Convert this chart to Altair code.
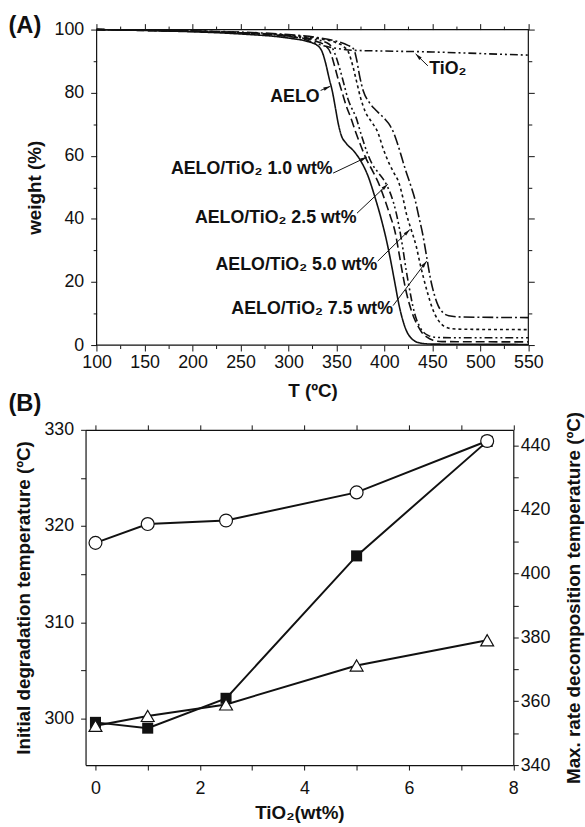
import math
import altair as alt
import pandas as pd

FONT = "Liberation Sans"
INK = "#111111"

# ---------------- Panel (A): TGA curves ----------------
AELO_T = [100, 150, 200, 250, 300, 320, 330, 335, 339, 342, 346, 349, 352, 355, 360, 368, 376, 383, 390, 397.5,
          403, 407, 411, 415, 419.5, 423, 427, 432, 438, 450, 550]
AELO_W = [100, 99.7, 99.3, 98.6, 97.3, 96.2, 95, 93, 89, 85, 80, 75, 70, 66.5, 64, 61.5, 58, 53.5, 47, 39,
          32, 26, 19.5, 13, 7.5, 4.5, 2.5, 1.2, 0.6, 0.3, 0.2]

T10_T = [100, 150, 200, 250, 300, 325, 338, 344, 348, 352, 356, 360, 365, 370, 375, 381, 388, 395, 401,
         406, 411, 415, 419, 423, 427, 431, 435, 439, 444, 450, 460, 550]
T10_W = [100, 99.7, 99.4, 98.9, 97.8, 96.6, 95, 92.5, 88.5, 84, 80, 76, 72, 67.5, 63.5, 59, 55, 50.5, 45.5,
         41, 36, 29.5, 22.5, 16.5, 12, 8.5, 6, 4, 2.6, 1.6, 1.1, 1.0]

T25_T = [100, 200, 250, 300, 325, 340, 346, 350, 354, 358, 362, 366, 370, 376, 382, 387, 394, 400, 405,
         409.6, 415, 419, 422.5, 426, 429.5, 433, 437, 441, 446, 452, 470, 550]
T25_W = [100, 99.5, 99, 98, 97, 95.8, 94, 91, 87, 82.5, 78, 75, 72.5, 66.5, 61, 57.5, 54.5, 52, 49,
         45, 38, 31, 24, 18, 12.5, 8.5, 5.7, 4, 3, 2.5, 2.3, 2.3]

T50_T = [100, 200, 250, 300, 330, 350, 358, 363, 367, 371, 375, 380, 386, 393, 399, 405, 410, 415, 419,
         423, 428, 433, 437, 441, 445, 449, 453, 457, 462, 470, 485, 550]
T50_W = [100, 99.5, 99, 98.2, 97.2, 95.8, 94.5, 92.5, 88.5, 83.5, 78.5, 74, 71, 67.5, 62, 57.5, 54.5, 51.5, 47,
         41.5, 36.5, 31.5, 26, 21, 16.5, 12.5, 9.5, 7.5, 6, 5.2, 5.0, 4.9]

T75_T = [100, 200, 250, 300, 330, 350, 362, 368, 371, 374, 378, 384, 392, 400, 406, 410, 414, 418, 422,
         427, 432, 436, 440, 444, 448, 452, 456, 461, 467, 480, 550]
T75_W = [100, 99.6, 99.2, 98.4, 97.5, 96.3, 95, 93.8, 90.5, 85.5, 80.5, 77, 74.2, 71.8, 69.5, 67, 63.5, 59.5, 55.5,
         51, 46, 40.5, 35, 28, 21, 16, 12.5, 10.3, 9.3, 8.9, 8.7]

TIO2_T = [100, 150, 200, 250, 290, 310, 325, 335, 345, 358, 370, 400, 450, 500, 550]
TIO2_W = [100, 99.8, 99.5, 99, 98.3, 97.6, 96, 95, 94.3, 93.7, 93.4, 93.2, 92.9, 92.4, 91.9]

SERIES = ["AELO", "AELO/TiO₂ 1.0 wt%", "AELO/TiO₂ 2.5 wt%", "AELO/TiO₂ 5.0 wt%", "AELO/TiO₂ 7.5 wt%", "TiO₂"]
CURVE_T = [AELO_T, T10_T, T25_T, T50_T, T75_T, TIO2_T]
CURVE_W = [AELO_W, T10_W, T25_W, T50_W, T75_W, TIO2_W]
DASHES = [[1, 0], [9, 4], [8, 3, 2, 3, 2, 3], [3, 3], [11, 3, 2, 3], [8, 3, 2, 3, 2, 3]]

# annotation labels (right-aligned at arrow tail) and arrows
LABELS = ["AELO", "AELO/TiO₂ 1.0 wt%", "AELO/TiO₂ 2.5 wt%", "AELO/TiO₂ 5.0 wt%", "AELO/TiO₂ 7.5 wt%"]
LABEL_T = [332.5, 346, 371, 392.5, 409]
LABEL_W = [78.5, 55.9, 40.3, 25.3, 11.5]
TIO2_LABEL = ["TiO₂"]
TIO2_LABEL_T = [446.7]
TIO2_LABEL_W = [87.5]

ARROW_T0 = [333.5, 346.5, 371.4, 393, 409, 445.3]
ARROW_W0 = [80.7, 54.5, 41.8, 26.6, 12.5, 88.5]
ARROW_T1 = [343.5, 381.8, 403.5, 426.5, 444, 432.5]
ARROW_W1 = [82, 59.6, 51, 36.6, 26.6, 92.3]

T_AXIS = [100, 550]
W_AXIS = [0, 100]
T_TICKS = list(range(100, 551, 25))
W_TICKS = list(range(0, 101, 10))

# ---------------- Panel (B) ----------------
B_X = [0, 1, 2.5, 5, 7.5]
B_INIT = [299.6, 299.0, 302.1, 316.9, 328.8]      # filled squares, left axis
B_MAX1 = [409.6, 415.5, 416.6, 425.4, 441.5]      # open circles, right axis
B_MAX2 = [352.3, 355.4, 359.0, 371.2, 379.1]      # open triangles, right axis
B_X_DOMAIN = [-0.19, 8]
B_L_DOMAIN = [295.16, 330]
B_R_DOMAIN = [340, 445]
B_X_TICKS = list(range(0, 9))
B_L_TICKS = list(range(300, 331, 5))
B_R_TICKS = list(range(340, 441, 10))

# ---------------- layout constants ----------------
A_PLOT_W = 436.5
A_SHIFT = 11.2
A_W = A_PLOT_W + A_SHIFT
A_H = 319.0
T_LO = T_AXIS[0] - A_SHIFT * (T_AXIS[1] - T_AXIS[0]) / A_PLOT_W
KX = A_W / (T_AXIS[1] - T_LO)
KY = A_H / (W_AXIS[1] - W_AXIS[0])
B_W, B_H = 432.5, 339.0


def cond(test, a, b):
    return {"condition": {"test": test, "value": a}, "value": b}


rows = []
for s, (ts, ws) in enumerate(zip(CURVE_T, CURVE_W)):
    for i, (t, w) in enumerate(zip(ts, ws)):
        rows.append({"series": SERIES[s], "T": t, "w": w, "i": i})
curves = pd.DataFrame(rows)

HEAD_SIZE = 48
r = math.sqrt(HEAD_SIZE) / 2
arrow_rows = []
for t0, w0, t1, w1 in zip(ARROW_T0, ARROW_W0, ARROW_T1, ARROW_W1):
    dx = (t1 - t0) * KX
    dy = -(w1 - w0) * KY
    L = math.hypot(dx, dy)
    ang = math.degrees(math.atan2(dx, -dy)) % 360
    cx = t1 - (dx / L) * r / KX
    cy = w1 + (dy / L) * r / KY
    arrow_rows.append({"t0": t0, "w0": w0, "t1": t1, "w1": w1, "ang": ang, "cx": cx, "cy": cy})
arrows = pd.DataFrame(arrow_rows)

xsA = alt.Scale(domain=[T_LO, T_AXIS[1]], nice=False, zero=False)
ysA = alt.Scale(domain=W_AXIS, nice=False, zero=False)

axA_bottom = alt.Axis(orient="bottom", values=T_TICKS,
                      labelExpr="datum.value % 50 == 0 ? datum.label : ''",
                      tickSize=cond("datum.value % 50 == 0", 6, 3.5), domain=False,
                      title="T (ºC)", labelPadding=3, titlePadding=10, labelFlush=False,
                      labelOverlap=False, titleX=229.5)
axA_left = alt.Axis(orient="left", offset=-A_SHIFT, values=W_TICKS,
                    labelExpr="datum.value % 20 == 0 ? datum.label : ''",
                    tickSize=cond("datum.value % 20 == 0", 6, 3.5), domain=False,
                    title="weight (%)", labelPadding=7, titlePadding=10, labelOverlap=False)
axA_top = alt.Axis(orient="top", values=T_TICKS, labels=False,
                   tickSize=cond("datum.value % 50 == 0", 6, 3.5), domain=False, title=None)
axA_right = alt.Axis(orient="right", values=W_TICKS, labels=False,
                     tickSize=cond("datum.value % 20 == 0", 6, 3.5), domain=False, title=None)

frame_df = pd.DataFrame({"x": [T_AXIS[0]], "x2": [T_AXIS[1]], "y": [W_AXIS[0]], "y2": [W_AXIS[1]]})
frame = alt.Chart(frame_df).mark_rect(fillOpacity=0, stroke=INK, strokeWidth=1.2).encode(
    x=alt.X("x:Q", scale=xsA, axis=axA_bottom), x2="x2:Q",
    y=alt.Y("y:Q", scale=ysA, axis=axA_left), y2="y2:Q")

lines = alt.Chart(curves).mark_line(color=INK, strokeWidth=1.6, interpolate="monotone").encode(
    x=alt.X("T:Q", scale=xsA, axis=axA_top),
    y=alt.Y("w:Q", scale=ysA, axis=axA_right),
    strokeDash=alt.StrokeDash("series:N", scale=alt.Scale(domain=SERIES, range=DASHES), legend=None),
    order="i:Q")

shafts = alt.Chart(arrows).mark_rule(color=INK, strokeWidth=1).encode(
    x=alt.X("t0:Q", scale=xsA, axis=None), y=alt.Y("w0:Q", scale=ysA, axis=None), x2="t1:Q", y2="w1:Q")
heads = alt.Chart(arrows).mark_point(shape="M0,-1L0.5,1L-0.5,1Z", filled=True, color=INK,
                                     size=HEAD_SIZE, opacity=1).encode(
    x=alt.X("cx:Q", scale=xsA, axis=None), y=alt.Y("cy:Q", scale=ysA, axis=None), angle=alt.Angle("ang:Q", scale=None))

lab_df = pd.DataFrame({"text": LABELS, "T": LABEL_T, "w": LABEL_W})
labels = alt.Chart(lab_df).mark_text(align="right", baseline="middle", font=FONT, fontSize=18,
                                     fontWeight="bold", color=INK).encode(
    x=alt.X("T:Q", scale=xsA, axis=None), y=alt.Y("w:Q", scale=ysA, axis=None), text="text:N")
tio_df = pd.DataFrame({"text": TIO2_LABEL, "T": TIO2_LABEL_T, "w": TIO2_LABEL_W})
tio_label = alt.Chart(tio_df).mark_text(align="left", baseline="middle", font=FONT, fontSize=18,
                                        fontWeight="bold", color=INK).encode(
    x=alt.X("T:Q", scale=xsA, axis=None), y=alt.Y("w:Q", scale=ysA, axis=None), text="text:N")

tagA = alt.Chart(pd.DataFrame({"t": ["(A)"]})).mark_text(align="left", baseline="top", font=FONT, fontSize=24,
                                                         fontWeight="bold", color=INK).encode(
    x=alt.value(-78), y=alt.value(-16), text="t:N")

panelA = alt.layer(frame, lines, shafts, heads, labels, tio_label, tagA).resolve_axis(
    x="independent", y="independent").properties(width=A_W, height=A_H)

# ---------------- Panel (B) chart ----------------
xsB = alt.Scale(domain=B_X_DOMAIN, nice=False, zero=False)
ysL = alt.Scale(domain=B_L_DOMAIN, nice=False, zero=False)
ysR = alt.Scale(domain=B_R_DOMAIN, nice=False, zero=False)

axB_bottom = alt.Axis(orient="bottom", values=B_X_TICKS,
                      labelExpr="datum.value % 2 == 0 ? datum.label : ''", tickSize=5,
                      title="TiO₂(wt%)", labelPadding=10, titlePadding=6, labelFlush=False, labelOverlap=False)
axB_top = alt.Axis(orient="top", values=B_X_TICKS, labels=False, tickSize=5, title=None)
axB_left = alt.Axis(orient="left", values=B_L_TICKS,
                    labelExpr="datum.value % 10 == 0 ? datum.label : ''", tickSize=5,
                    labelPadding=7, title="Initial degradation temperature (ºC)", titlePadding=11,
                    labelOverlap=False)
axB_right = alt.Axis(orient="right", values=B_R_TICKS,
                     labelExpr="datum.value % 20 == 0 ? datum.label : ''", tickSize=5,
                     labelPadding=2, title="Max. rate decomposition temperature (ºC)", titlePadding=15,
                     titleAngle=270, titleBaseline="top", labelOverlap=False)

sq_df = pd.DataFrame({"x": B_X, "y": B_INIT})
rt_df = pd.DataFrame({"x": B_X + B_X, "y": B_MAX1 + B_MAX2,
                      "series": ["max1"] * len(B_X) + ["max2"] * len(B_X)})

left_line = alt.Chart(sq_df).mark_line(color=INK, strokeWidth=2).encode(
    x=alt.X("x:Q", scale=xsB, axis=axB_bottom), y=alt.Y("y:Q", scale=ysL, axis=axB_left))
left_pts = alt.Chart(sq_df).mark_point(shape="square", filled=True, color=INK, size=125, opacity=1).encode(
    x=alt.X("x:Q", scale=xsB, axis=None), y=alt.Y("y:Q", scale=ysL, axis=None))
right_line = alt.Chart(rt_df).mark_line(color=INK, strokeWidth=2).encode(
    x=alt.X("x:Q", scale=xsB, axis=axB_top), y=alt.Y("y:Q", scale=ysR, axis=axB_right), detail="series:N")
right_pts = alt.Chart(rt_df).mark_point(filled=True, fill="white", stroke=INK, strokeWidth=1.2,
                                        size=170, opacity=1).encode(
    x=alt.X("x:Q", scale=xsB, axis=None), y=alt.Y("y:Q", scale=ysR, axis=None),
    shape=alt.Shape("series:N", scale=alt.Scale(domain=["max1", "max2"], range=["circle", "triangle-up"]),
                    legend=None))

tagB = alt.Chart(pd.DataFrame({"t": ["(B)"]})).mark_text(align="left", baseline="top", font=FONT, fontSize=24,
                                                         fontWeight="bold", color=INK).encode(
    x=alt.value(-78), y=alt.value(-38), text="t:N")

panelB = alt.layer(left_line, left_pts, right_line, right_pts, tagB).resolve_scale(
    y="independent").resolve_axis(x="independent", y="independent").properties(width=B_W, height=B_H)

chart = alt.vconcat(panelA, panelB, spacing=85.7, bounds="flush").properties(
    padding={"left": 7.5, "top": 8.3, "right": 0, "bottom": 0}
).configure_view(stroke="transparent").configure_axis(
    labelFont=FONT, titleFont=FONT, labelFontSize=18, titleFontSize=19, titleFontWeight="bold",
    labelColor=INK, titleColor=INK, tickColor=INK, domainColor=INK, tickWidth=1, domainWidth=1.2, grid=False)

chart.save("out.html", embed_options={"renderer": "svg", "actions": False})
